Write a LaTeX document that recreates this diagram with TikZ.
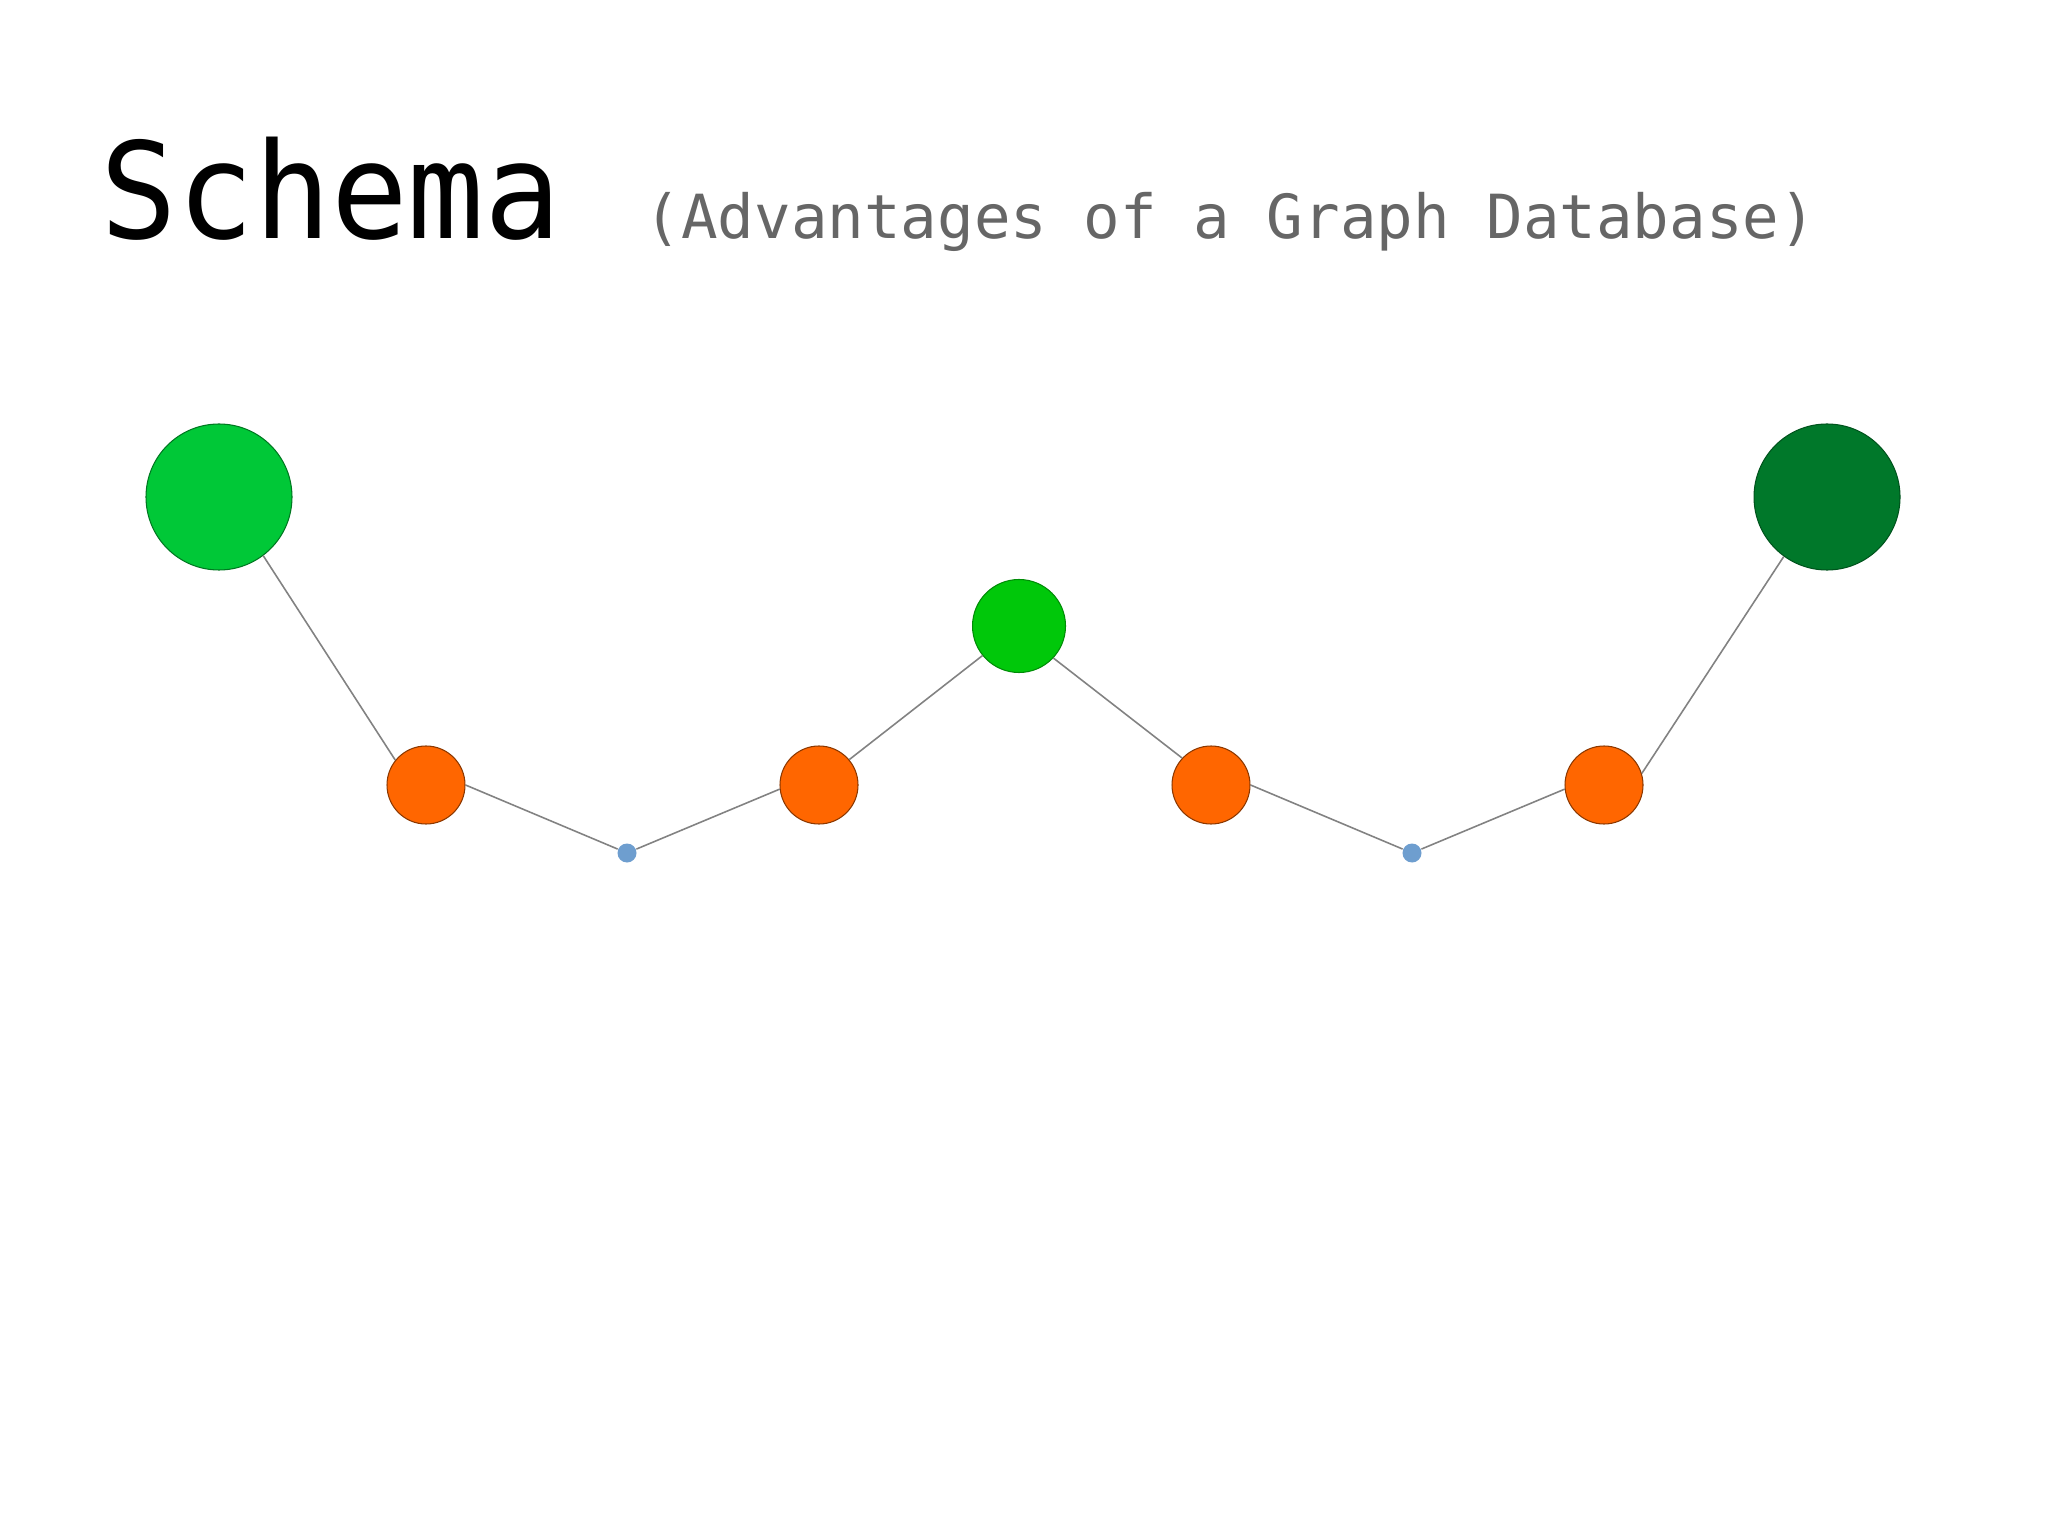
\documentclass[tikz,border=0pt]{standalone}
\usepackage{fontspec}
\usepackage{tikz}
\newfontfamily\titrefont[FakeStretch=0.955]{DejaVu Sans Mono}
\newfontfamily\soustitrefont{DejaVu Sans Mono}
\definecolor{vertclair}{RGB}{0,200,55}
\definecolor{vertvif}{RGB}{0,200,10}
\definecolor{vertfonce}{RGB}{0,120,42}
\definecolor{orange}{RGB}{255,102,0}
\definecolor{bleu}{RGB}{110,158,207}
\definecolor{lien}{RGB}{130,130,130}

\begin{document}
\begin{tikzpicture}[x=0.1mm, y=-0.1mm,
    sommet/.style={circle, draw, line width=0.3pt, inner sep=0pt},
    grand/.style={sommet, minimum size=14.6mm},
    moyen/.style={sommet, minimum size=9.3mm, fill=vertvif, draw=vertvif!70!black},
    petit/.style={sommet, minimum size=7.8mm, fill=orange, draw=orange!55!black},
    point/.style={circle, inner sep=0pt, minimum size=1.9mm, fill=bleu},
    arete/.style={draw=lien, line width=0.45pt}]
                \useasboundingbox[fill=white] (0,0) rectangle (2048,1535);

                % Titre
                \node[anchor=base west, inner sep=0pt, font=\titrefont\fontsize{38}{40}\selectfont] (titre) at (100,239) {Schema};
                \node[anchor=base west, inner sep=0pt, text=black!60, font=\soustitrefont\fontsize{17.3}{20}\selectfont] (soustitre) at (644,239) {(Advantages of a Graph Database)};

                % Les sommets
                \node[grand, fill=vertclair, draw=vertclair!60!black] (G1) at (219, 497) {};
                \node[petit] (O1) at (426, 785) {};
                \node[point] (B1) at (627, 853) {};
                \node[petit] (O2) at (819, 785) {};
                \node[moyen] (G2) at (1019, 626) {};
                \node[petit] (O3) at (1211, 785) {};
                \node[point] (B2) at (1412, 853) {};
                \node[petit] (O4) at (1604, 785) {};
                \node[grand, fill=vertfonce, draw=vertfonce!70!black] (G3) at (1827, 497) {};

                % Les arêtes
                \draw[arete] (G1.-53) -- (O1.141);
                \draw[arete] (O1.east) -- (B1);
                \draw[arete] (B1) -- (O2.186);
                \draw[arete] (O2.40) -- (G2.219);
                \draw[arete] (G2.-43) -- (O3.137);
                \draw[arete] (O3.east) -- (B2);
                \draw[arete] (B2) -- (O4.186);
                \draw[arete] (O4.17) -- (G3.234);
            \end{tikzpicture}
\end{document}
